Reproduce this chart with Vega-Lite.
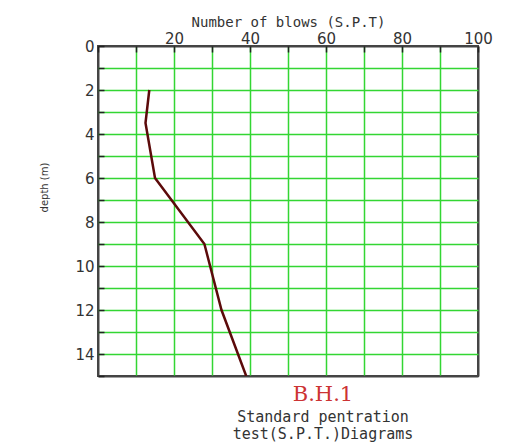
{
  "$schema": "https://vega.github.io/schema/vega-lite/v6.json",
  "width": 380,
  "height": 330,
  "autosize": {"type": "none"},
  "padding": {"left": 98, "top": 46, "right": 28, "bottom": 70},
  "background": "white",
  "config": {"view": {"stroke": "#444444", "strokeWidth": 2}, "font": "DejaVu Sans"},
  "title": {
    "text": "B.H.1",
    "orient": "bottom",
    "anchor": "middle",
    "frame": "group",
    "dx": 35,
    "offset": 7,
    "color": "#cc3333",
    "fontSize": 21,
    "font": "DejaVu Serif",
    "fontWeight": "normal",
    "subtitle": ["Standard pentration", "test(S.P.T.)Diagrams"],
    "subtitleColor": "#333333",
    "subtitleFontSize": 15,
    "subtitleFont": "DejaVu Sans Mono",
    "subtitlePadding": 5,
    "subtitleLineHeight": 17
  },
  "data": {
    "values": [
      {"blows": 13.5, "depth": 2},
      {"blows": 12.5, "depth": 3.5},
      {"blows": 15, "depth": 6},
      {"blows": 28, "depth": 9},
      {"blows": 32.5, "depth": 12},
      {"blows": 39, "depth": 15}
    ]
  },
  "mark": {"type": "line", "color": "#5c0a0a", "strokeWidth": 2.5, "clip": true},
  "encoding": {
    "x": {
      "field": "blows",
      "type": "quantitative",
      "scale": {"domain": [0, 100], "nice": false},
      "axis": {
        "orient": "top",
        "values": [0, 10, 20, 30, 40, 50, 60, 70, 80, 90, 100],
        "labelExpr": "datum.value > 0 && datum.value % 20 == 0 ? datum.label : ''",
        "title": "Number of blows (S.P.T)",
        "grid": true,
        "gridColor": {"condition": {"test": "datum.value == 0 || datum.value == 100", "value": "#444444"}, "value": "#33d633"},
        "gridWidth": {"condition": {"test": "datum.value == 0 || datum.value == 100", "value": 2}, "value": 1.5},
        "gridOpacity": 1,
        "domain": false,
        "tickColor": "#222222",
        "tickSize": -6,
        "tickWidth": 1.5,
        "labelFontSize": 15,
        "labelColor": "#333333",
        "labelPadding": 6,
        "labelFlush": false,
        "titleFontSize": 14,
        "titleFont": "DejaVu Sans Mono",
        "titleFontWeight": "normal",
        "titleColor": "#333333",
        "titlePadding": 2
      }
    },
    "y": {
      "field": "depth",
      "type": "quantitative",
      "scale": {"domain": [0, 15], "reverse": true, "nice": false},
      "axis": {
        "orient": "left",
        "values": [0, 1, 2, 3, 4, 5, 6, 7, 8, 9, 10, 11, 12, 13, 14, 15],
        "labelExpr": "datum.value % 2 == 0 ? datum.label : ''",
        "title": "depth (m)",
        "grid": true,
        "gridColor": {"condition": {"test": "datum.value == 0 || datum.value == 15", "value": "#444444"}, "value": "#33d633"},
        "gridWidth": {"condition": {"test": "datum.value == 0 || datum.value == 15", "value": 2}, "value": 1.5},
        "gridOpacity": 1,
        "domain": false,
        "tickColor": "#222222",
        "tickSize": -6,
        "tickWidth": 1.5,
        "labelFontSize": 15,
        "labelColor": "#333333",
        "labelPadding": 10,
        "labelFlush": false,
        "titleFontSize": 10,
        "titleFontWeight": "normal",
        "titleColor": "#333333",
        "titleX": -49,
        "titleY": 141
      }
    },
    "order": {"field": "depth", "type": "quantitative"}
  }
}
